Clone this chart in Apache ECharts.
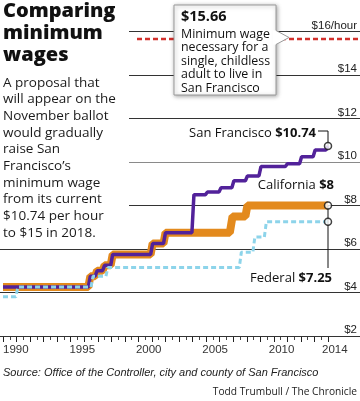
<!DOCTYPE html>
<html><head><meta charset="utf-8">
<script src="https://cdn.jsdelivr.net/npm/echarts@6/dist/echarts.min.js"></script>
<style>html,body{margin:0;padding:0;background:#fff}#c{width:360px;height:401px}</style>
</head><body><div id="c"></div>
<script>
// ---- data ----
const xTickYears = [1990, 1995, 2000, 2005, 2010, 2014];
const yTicks = [2, 4, 6, 8, 10, 12, 14, 16];

const sfYears = [1990, 1996.3, 1996.45, 1996.8, 1996.95, 1997.35, 1997.5, 1997.95, 1998.1, 2000.9, 2001.05, 2001.85, 2002.0,
  2003.95, 2004.1, 2004.95, 2005.1, 2005.95, 2006.1, 2006.9, 2007.05, 2007.9, 2008.05, 2008.9, 2009.05,
  2010.85, 2011.0, 2011.9, 2012.05, 2012.9, 2013.05, 2013.85, 2014];
const sfWages = [4.25, 4.25, 4.75, 4.75, 5.0, 5.0, 5.25, 5.25, 5.75, 5.75, 6.25, 6.25, 6.75,
  6.75, 8.5, 8.5, 8.62, 8.62, 8.82, 8.82, 9.14, 9.14, 9.36, 9.36, 9.79,
  9.79, 9.92, 9.92, 10.24, 10.24, 10.55, 10.55, 10.74];

const caYears = [1990, 1996.3, 1996.45, 1996.8, 1996.95, 1997.35, 1997.5, 1997.95, 1998.1, 2000.9, 2001.05, 2001.85, 2002.0,
  2006.75, 2006.95, 2007.9, 2008.05, 2014];
const caWages = [4.25, 4.25, 4.75, 4.75, 5.0, 5.0, 5.25, 5.25, 5.75, 5.75, 6.25, 6.25, 6.75,
  6.75, 7.5, 7.5, 8.0, 8.0];

const fedYears = [1990, 1990.95, 1991.1, 1996.5, 1996.65, 1997.6, 1997.75, 2007.45, 2007.6, 2008.45, 2008.6, 2009.3, 2009.45, 2014];
const fedWages = [3.8, 3.8, 4.25, 4.25, 4.75, 4.75, 5.15, 5.15, 5.85, 5.85, 6.55, 6.55, 7.25, 7.25];

const livingWage = 15.66;

// ---- layout ----
const PLOT_L = 3, PLOT_R = 32, TOP = 31.5, BOTTOM = 65, W = 360;
const pxPerYear = (W - PLOT_L - PLOT_R) / (2014 - 1990);
const X1MIN = 1990 - PLOT_L / pxPerYear;
const X1MAX = 2014 + PLOT_R / pxPerYear;
const LIVING_START = 1990 + (137 - PLOT_L) / pxPerYear;

const pairs = (xs, ys) => xs.map((x, i) => [x, ys[i]]);
const last = (xs, ys) => [xs[xs.length - 1], ys[ys.length - 1]];

const FONT = '"Open Sans", "Noto Sans", sans-serif';
const NARROW = '"Liberation Sans Narrow", "Liberation Sans", sans-serif';

const chart = echarts.init(document.getElementById('c'), null, {renderer: 'canvas'});

const paragraph = ['A proposal that', 'will appear on the', 'November ballot', 'would gradually', 'raise San',
  'Francisco\u2019s', 'minimum wage', 'from its current', '$10.74 per hour', 'to $15 in 2018.'];
const boxLines = ['Minimum wage', 'necessary for a', 'single, childless', 'adult to live in', 'San Francisco'];

chart.setOption({
  animation: false,
  backgroundColor: '#fff',
  grid: [
    {left: PLOT_L, right: PLOT_R, top: TOP, bottom: BOTTOM},
    {left: 0, right: 0, top: TOP, bottom: BOTTOM},
    {left: PLOT_L + pxPerYear / 2, right: PLOT_R - pxPerYear / 2, top: TOP, bottom: BOTTOM}
  ],
  xAxis: [
    {
      type: 'value', gridIndex: 0, min: 1990, max: 2014, interval: 1, offset: 1,
      axisLine: {show: false},
      axisTick: {show: true, length: 5, lineStyle: {color: '#222', width: 1}},
      minorTick: {show: true, splitNumber: 2, length: 3, lineStyle: {color: '#444', width: 1}},
      splitLine: {show: false},
      axisLabel: {show: false}
    },
    {type: 'value', gridIndex: 1, min: X1MIN, max: X1MAX, show: false},
    {
      type: 'value', gridIndex: 2, min: 1990.5, max: 2014.5, interval: 1,
      axisLine: {show: false}, axisTick: {show: false}, splitLine: {show: false},
      axisLabel: {
        showMinLabel: true, showMaxLabel: true, margin: 8,
        fontFamily: NARROW, fontSize: 11.5, color: '#333',
        formatter: v => xTickYears.indexOf(Math.floor(v)) >= 0 ? String(Math.floor(v)) : ''
      }
    }
  ],
  yAxis: [
    {type: 'value', gridIndex: 0, min: 2, max: 16, show: false},
    {
      type: 'value', gridIndex: 1, min: yTicks[0], max: yTicks[yTicks.length - 1], interval: 2, position: 'right',
      axisLine: {show: false}, axisTick: {show: false},
      splitLine: {show: true, lineStyle: {color: ['#333', '#333', '#333', '#333', '#8a8a8a', '#333', '#333', '#333'], width: 1}},
      axisLabel: {
        inside: true, margin: 3, verticalAlign: 'bottom',
        fontFamily: NARROW, fontSize: 11.5, color: '#222',
        formatter: v => v === 16 ? '$16/hour' : '$' + v
      }
    },
    {type: 'value', gridIndex: 2, min: 2, max: 16, show: false}
  ],
  series: [
    {type: 'line', name: 'California', xAxisIndex: 1, yAxisIndex: 1, data: pairs(caYears, caWages),
      showSymbol: false, lineStyle: {color: '#e38a1d', width: 8}, z: 2},
    {type: 'line', name: 'San Francisco', xAxisIndex: 1, yAxisIndex: 1, data: pairs(sfYears, sfWages),
      showSymbol: false, lineStyle: {color: '#52229a', width: 3.5}, z: 3},
    {type: 'line', name: 'Federal', xAxisIndex: 1, yAxisIndex: 1, data: pairs(fedYears, fedWages),
      showSymbol: false, lineStyle: {color: '#8dd4ea', width: 3, type: [5, 3]}, z: 4},
    {type: 'line', name: 'Living wage', xAxisIndex: 1, yAxisIndex: 1, data: [[LIVING_START, livingWage], [X1MAX, livingWage]],
      showSymbol: false, lineStyle: {color: '#d2302c', width: 2.5, type: [5, 3]}, z: 3},
    {type: 'scatter', xAxisIndex: 1, yAxisIndex: 1,
      data: [last(sfYears, sfWages), last(caYears, caWages), last(fedYears, fedWages)],
      symbol: 'circle', symbolSize: 7, itemStyle: {color: '#fff', borderColor: '#111', borderWidth: 1.5}, z: 10}
  ]
});

// connectors & annotations (pixel positions from the library's own scales)
const px = p => chart.convertToPixel({xAxisIndex: 1, yAxisIndex: 1}, p);
const sfEnd = px(last(sfYears, sfWages));
const caEnd = px(last(caYears, caWages));
const fedEnd = px(last(fedYears, fedWages));

const bold = {fontWeight: 'bold', fontFamily: FONT, fontSize: 13, fill: '#111'};

chart.setOption({
  graphic: [
    {type: 'rect', z: 5, shape: {x: 0, y: 25, width: 129, height: 216}, style: {fill: '#fff'}},
    {type: 'text', z: 6, style: {text: 'Comparing', x: 3, y: 11.5, fontSize: 20, fontWeight: 900, fontFamily: FONT, fill: '#111', verticalAlign: 'middle'}},
    {type: 'text', z: 6, style: {text: 'minimum', x: 3, y: 33.5, fontSize: 20, fontWeight: 900, fontFamily: FONT, fill: '#111', verticalAlign: 'middle'}},
    {type: 'text', z: 6, style: {text: 'wages', x: 3, y: 55, fontSize: 20, fontWeight: 900, fontFamily: FONT, fill: '#111', verticalAlign: 'middle'}},
    {type: 'text', z: 6, style: {text: paragraph.join('\n'), x: 3, y: 74.4, fontSize: 13.5, lineHeight: 16.7, fontFamily: FONT, fill: '#1a1a1a', verticalAlign: 'top'}},

    // box
    {type: 'rect', z: 50, shape: {x: 174, y: 5, width: 102, height: 90},
      style: {fill: '#fff', stroke: '#9a9a9a', lineWidth: 1, shadowBlur: 4, shadowColor: 'rgba(0,0,0,0.35)', shadowOffsetX: 1, shadowOffsetY: 1}},
    {type: 'polygon', z: 51, shape: {points: [[273, 30.5], [276, 30.5], [289, 37.5], [276, 44.5], [273, 44.5]]}, style: {fill: '#fff'}},
    {type: 'polyline', z: 52, shape: {points: [[276, 30.5], [289, 37.5], [276, 44.5]]}, style: {stroke: '#9a9a9a', lineWidth: 1, fill: null}},
    {type: 'text', z: 53, style: {text: '$15.66', x: 181, y: 16.8, fontSize: 14.5, fontWeight: 'bold', fontFamily: FONT, fill: '#111', verticalAlign: 'middle'}},
    {type: 'text', z: 53, style: {text: boxLines.join('\n'), x: 181, y: 27.7, fontSize: 12.4, lineHeight: 13.4, fontFamily: FONT, fill: '#111', verticalAlign: 'top'}},

    // series labels
    {type: 'text', z: 20, style: {text: 'San Francisco {b|$10.74}', rich: {b: bold}, x: 316, y: 133, fontSize: 13, fontFamily: FONT, fill: '#111', align: 'right', verticalAlign: 'middle'}},
    {type: 'polyline', z: 9, shape: {points: [[318, 131], [sfEnd[0], 131], [sfEnd[0], sfEnd[1]]]}, style: {stroke: '#111', lineWidth: 1, fill: null}},
    {type: 'text', z: 20, style: {text: 'California {b|$8}', rich: {b: bold}, x: 334, y: 185, fontSize: 13, fontFamily: FONT, fill: '#111', align: 'right', verticalAlign: 'middle'}},
    {type: 'polyline', z: 9, shape: {points: [[caEnd[0], caEnd[1]], [fedEnd[0], 268]]}, style: {stroke: '#111', lineWidth: 1, fill: null}},
    {type: 'text', z: 20, style: {text: 'Federal {b|$7.25}', rich: {b: bold}, x: 332, y: 278, fontSize: 13, fontFamily: FONT, fill: '#111', align: 'right', verticalAlign: 'middle'}},

    // footer
    {type: 'text', z: 6, style: {text: 'Source: Office of the Controller, city and county of San Francisco', x: 3, y: 373, fontSize: 11, fontStyle: 'italic', fontFamily: NARROW, fill: '#222', verticalAlign: 'middle'}},
    {type: 'text', z: 6, style: {text: 'Todd Trumbull / The Chronicle', x: 357, y: 392, fontSize: 10.2, fontFamily: FONT, fill: '#222', align: 'right', verticalAlign: 'middle'}}
  ]
});
</script></body></html>
